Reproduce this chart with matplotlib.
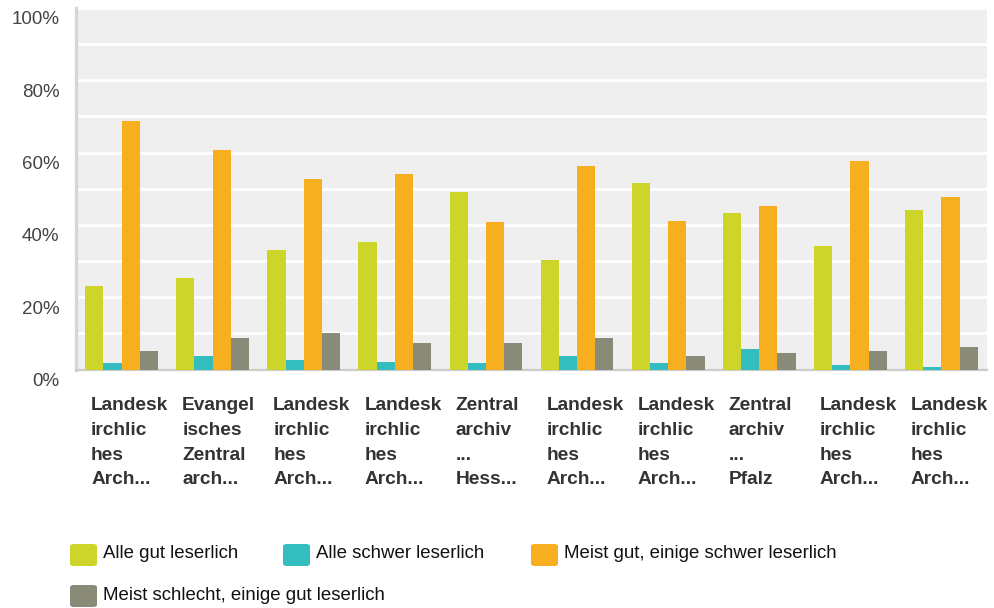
import numpy as np
import matplotlib
matplotlib.use("Agg")
import matplotlib.pyplot as plt
import matplotlib.transforms as mtransforms
from matplotlib.patches import FancyBboxPatch

plt.rcParams['font.family'] = ['Liberation Sans', 'DejaVu Sans']

# category labels as shown (truncated in the original)
categories = [
    "Landesk\nirchlic\nhes\nArch...",
    "Evangel\nisches\nZentral\narch...",
    "Landesk\nirchlic\nhes\nArch...",
    "Landesk\nirchlic\nhes\nArch...",
    "Zentral\narchiv\n...\nHess...",
    "Landesk\nirchlic\nhes\nArch...",
    "Landesk\nirchlic\nhes\nArch...",
    "Zentral\narchiv\n...\nPfalz",
    "Landesk\nirchlic\nhes\nArch...",
    "Landesk\nirchlic\nhes\nArch...",
]

series_names = ["Alle gut leserlich", "Alle schwer leserlich",
                "Meist gut, einige schwer leserlich",
                "Meist schlecht, einige gut leserlich"]

alle_gut = [23.1, 25.3, 33.0, 35.3, 49.1, 30.3, 51.6, 43.3, 34.1, 44.1]
alle_schwer = [1.8, 3.7, 2.6, 2.0, 1.8, 3.7, 1.8, 5.6, 1.2, 0.7]
meist_gut = [68.7, 60.7, 52.7, 54.1, 40.8, 56.3, 41.1, 45.2, 57.7, 47.7]
meist_schlecht = [5.1, 8.7, 10.1, 7.3, 7.3, 8.7, 3.7, 4.5, 5.1, 6.2]

colors = ["#CED52A", "#33BDBF", "#F7AF1F", "#8A8A78"]

W, H = 994, 608
fig = plt.figure(figsize=(W / 100, H / 100), dpi=100)
ax = fig.add_axes([76 / W, (H - 369.5) / H, (987 - 76) / W, (369.5 - 8) / H])
ax.set_facecolor("#EFEFEF")

x = np.arange(len(categories))
bw = 0.2
all_series = [alle_gut, alle_schwer, meist_gut, meist_schlecht]
for k, vals in enumerate(all_series):
    ax.bar(x - 0.4 + bw * (k + 0.5), vals, width=bw, color=colors[k],
           linewidth=0, zorder=3)

ax.set_xlim(-0.5, len(categories) - 0.5)
ax.set_ylim(0, 100)
ax.set_yticks(np.arange(0, 101, 20))
ax.set_yticks(np.arange(0, 101, 10), minor=True)
ax.set_yticklabels([f"{v}%" for v in range(0, 101, 20)], fontsize=13.5, color="#444444")
ax.yaxis.grid(True, which="both", color="white", linewidth=2, zorder=1)
ax.set_axisbelow(True)
ax.tick_params(axis="y", which="both", length=0, pad=12)
ax.set_xticks([])

for lab in ax.get_yticklabels():
    lab.set_transform(lab.get_transform() + mtransforms.ScaledTranslation(0, -0.1, fig.dpi_scale_trans))

for s in ["top", "right"]:
    ax.spines[s].set_visible(False)
ax.spines["left"].set_color("#D6D6D6")
ax.spines["left"].set_linewidth(2.4)
ax.spines["bottom"].set_color("#CCCCCC")
ax.spines["bottom"].set_linewidth(1.6)

# category labels, left aligned inside each group
trans = mtransforms.blended_transform_factory(ax.transData, fig.transFigure)
for i, lab in enumerate(categories):
    ax.text(i - 0.5 + 0.165, (H - 397) / H, lab, transform=trans, ha="left", va="top",
            fontsize=13.8, fontweight="bold", color="#333333", linespacing=1.6,
            clip_on=False)

# legend
legend_pos = [(70, 555), (283, 555), (531, 555), (70, 596)]
for (lx, ly), name, c in zip(legend_pos, series_names, colors):
    box = FancyBboxPatch((lx / W, (H - ly - 11) / H), 27 / W, 22 / H,
                         boxstyle="round,pad=0,rounding_size=0.004",
                         transform=fig.transFigure, facecolor=c, edgecolor="none")
    fig.patches.append(box)
    fig.text((lx + 33) / W, (H - ly + 1) / H, name, ha="left", va="center",
             fontsize=13.4, color="#111111")

fig.savefig("out.png", dpi=100, facecolor="white")
